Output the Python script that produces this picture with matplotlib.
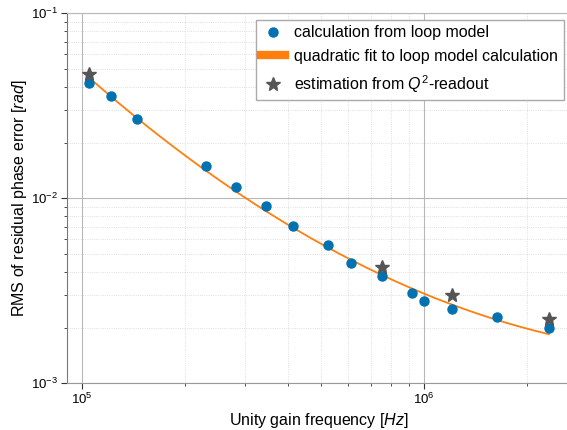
import numpy as np
import matplotlib
matplotlib.use("Agg")
import matplotlib.pyplot as plt

# =========================
# Data
# =========================
ugf_model = [1.052e5, 1.218e5, 1.453e5, 2.301e5, 2.827e5, 3.444e5, 4.13e5,
             5.236e5, 6.10e5, 7.52e5, 9.21e5, 9.96e5, 1.202e6, 1.634e6, 2.312e6]
rms_model = [0.04184, 0.03573, 0.02673, 0.01495, 0.01147, 0.00909, 0.00711,
             0.00557, 0.00445, 0.003816, 0.003065, 0.002786, 0.002521,
             0.002274, 0.001983]

ugf_q2 = [1.052e5, 7.52e5, 1.202e6, 2.312e6]
rms_q2 = [0.04696, 0.004270, 0.002990, 0.002218]

# =========================
# Style
# =========================
plt.rcParams["font.family"] = ["Liberation Sans", "DejaVu Sans"]
plt.rcParams["mathtext.fontset"] = "custom"
plt.rcParams["mathtext.rm"] = "Liberation Sans"
plt.rcParams["mathtext.it"] = "Liberation Sans:italic"
plt.rcParams["font.size"] = 11.5

W, H = 567, 430
# axes box in pixels (right edge slightly past the canvas, as in the reference)
ax_l, ax_r, ax_t, ax_b = 66.7, 570, 13.3, 383.3

fig = plt.figure(figsize=(W / 100, H / 100), dpi=100)
ax = fig.add_axes([ax_l / W, 1 - ax_b / H, (ax_r - ax_l) / W, (ax_b - ax_t) / H])

# quadratic fit in log-log space
lx = np.log10(ugf_model)
ly = np.log10(rms_model)
coef = np.polyfit(lx, ly, 2)
xfit = np.linspace(lx.min(), lx.max(), 200)
yfit = np.polyval(coef, xfit)

ax.plot(ugf_model, rms_model, "o", color="#0072b2", markersize=6.5,
        label="calculation from loop model", zorder=3)
ax.plot(10 ** xfit, 10 ** yfit, "-", color="#ff7f0e", linewidth=1.3,
        label="quadratic fit to loop model calculation", zorder=2)
ax.plot(ugf_q2, rms_q2, "*", color="#555555", markersize=10,
        label="estimation from $Q^2$-readout", zorder=4)

ax.set_xscale("log")
ax.set_yscale("log")
ax.set_xlim(9.04e4, 2.663e6)
ax.set_ylim(1e-3, 1e-1)

ax.set_xlabel("Unity gain frequency [$Hz$]", labelpad=3)
ax.set_ylabel("RMS of residual phase error [$rad$]", labelpad=2)

ax.grid(True, which="major", color="#b8b8b8", linewidth=0.8, linestyle="-")
ax.grid(True, which="minor", color="#d4d4d4", linewidth=0.6, linestyle=":")
ax.set_axisbelow(True)

for side in ["top", "right"]:
    ax.spines[side].set_color("#b8b8b8")
ax.spines["left"].set_color("#777777")
ax.spines["bottom"].set_color("#999999")

ax.tick_params(which="major", length=4, width=0.8, color="#333333",
               labelsize=9.5, pad=2)
ax.tick_params(which="minor", length=2, width=0.6, color="#333333")
ax.tick_params(axis="x", which="minor", labelbottom=False)

leg = ax.legend(loc="upper right", fancybox=False, framealpha=1,
                edgecolor="#aaaaaa", borderpad=0.35, borderaxespad=0.4,
                handlelength=1.45, handletextpad=0.6, labelspacing=0.55)
for line in leg.get_lines():
    if line.get_linestyle() == "-":
        line.set_linewidth(6)

fig.savefig("out.png", dpi=100)
